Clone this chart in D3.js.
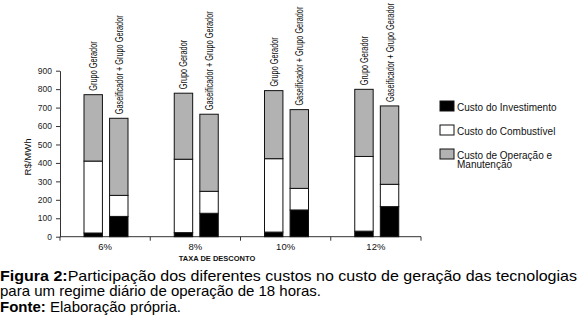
<!DOCTYPE html>
<html><head><meta charset="utf-8">
<script src="https://cdn.jsdelivr.net/npm/d3@7"></script>
<style>
body{margin:0;background:#fff;}
svg{display:block;}
text{font-family:"Liberation Sans",Arial,sans-serif;}
</style></head>
<body>
<svg id="c" width="579" height="322"></svg>
<script>
const categories = ["6%", "8%", "10%", "12%"];
const technologies = ["Grupo Gerador", "Gaseificador + Grupo Gerador"];
const components = ["Custo do Investimento", "Custo do Combustível", "Custo de Operação e Manutenção"];
// values per technology per category: [investimento, combustível, O&M]
const grupoGerador = [[20, 390, 360], [22, 398, 358], [25, 398, 369], [30, 405, 364]];
const gaseificadorGrupo = [[110, 114, 418], [127, 119, 418], [145, 117, 427], [163, 121, 425]];
const yTicks = [0, 100, 200, 300, 400, 500, 600, 700, 800, 900];
const compColors = ["#000000", "#ffffff", "#b2b2b2"];

const svg = d3.select("#c");
const x0 = d3.scaleBand().domain(categories).range([60, 421]).padding(0);
const x1 = d3.scaleBand().domain(technologies).range([24, 68]).paddingInner(0.28);
const y = d3.scaleLinear().domain([0, 900]).range([236.7, 70.7]);

const rows = [];
categories.forEach((c, i) => {
  [grupoGerador, gaseificadorGrupo].forEach((arr, t) => {
    let acc = 0;
    const segs = arr[i].map((v, k) => { const s = {k, y0: acc, y1: acc + v}; acc += v; return s; });
    rows.push({cat: c, tech: technologies[t], segs, total: acc});
  });
});

// y axis
const yAxis = d3.axisLeft(y).tickValues(yTicks).tickSize(4).tickSizeOuter(0).tickPadding(4);
const gy = svg.append("g").attr("transform", "translate(60,0)").call(yAxis);
gy.select(".domain").attr("stroke", "#333");
gy.selectAll(".tick line").attr("stroke", "#333");
gy.selectAll(".tick text").attr("font-size", 8.5).attr("fill", "#222").attr("font-family", "'Liberation Sans',Arial,sans-serif");

// x axis
svg.append("line").attr("x1", x0.range()[0]).attr("x2", x0.range()[1]).attr("y1", y(0)).attr("y2", y(0)).attr("stroke", "#333");
const bounds = categories.map(c => x0(c)).concat([x0.range()[1]]);
svg.selectAll("line.xt").data(bounds).enter().append("line").attr("class", "xt")
  .attr("x1", d => d).attr("x2", d => d).attr("y1", y(0)).attr("y2", y(0) + 4).attr("stroke", "#333");
svg.selectAll("text.cat").data(categories).enter().append("text").attr("class", "cat")
  .attr("x", d => x0(d) + x0.bandwidth() / 2).attr("y", 250).attr("text-anchor", "middle")
  .attr("font-size", 9.5).attr("fill", "#111").text(d => d);

// bars
const bg = svg.selectAll("g.bar").data(rows).enter().append("g").attr("class", "bar")
  .attr("transform", d => `translate(${x0(d.cat) + x1(d.tech)},0)`);
bg.selectAll("rect").data(d => d.segs).enter().append("rect")
  .attr("x", 0).attr("width", x1.bandwidth())
  .attr("y", d => y(d.y1)).attr("height", d => y(d.y0) - y(d.y1))
  .attr("fill", d => compColors[d.k]).attr("stroke", "#111").attr("stroke-width", 1);

// rotated labels (condensed horizontally along text direction)
bg.append("text")
  .attr("transform", d => `translate(${x1.bandwidth() / 2 + 4},${y(d.total) - 4}) rotate(-90) scale(0.735,1)`)
  .attr("font-size", 10).attr("fill", "#111")
  .text(d => d.tech);

// y label
svg.append("text").attr("transform", "translate(31,157) rotate(-90)").attr("text-anchor", "middle")
  .attr("font-size", 9.5).attr("fill", "#111").text("R$/MWh");
// x title
svg.append("text").attr("x", 217).attr("y", 260.5).attr("text-anchor", "middle")
  .attr("font-size", 7.5).attr("font-weight", "bold").attr("fill", "#111").text("TAXA DE DESCONTO");

// legend
const legendLabels = [["Custo do Investimento"], ["Custo do Combustível"], ["Custo de Operação e", "Manutenção"]];
const lg = svg.selectAll("g.lg").data(components).enter().append("g").attr("class", "lg")
  .attr("transform", (d, i) => `translate(440,${101 + i * 24})`);
lg.append("rect").attr("width", 14).attr("height", 10).attr("fill", (d, i) => compColors[i]).attr("stroke", "#111");
lg.each(function (d, i) {
  const t = d3.select(this).append("text").attr("x", 17).attr("y", 9.5).attr("font-size", 10).attr("fill", "#111");
  legendLabels[i].forEach((s, j) => t.append("tspan").attr("x", 17).attr("dy", j ? 9.5 : 0).text(s));
});

// caption
const cap = svg.append("g").attr("fill", "#000").attr("font-size", 15);
const l1 = cap.append("text").attr("x", 0).attr("y", 280.5).attr("textLength", 577).attr("lengthAdjust", "spacingAndGlyphs");
l1.append("tspan").attr("font-weight", "bold").text("Figura 2:");
l1.append("tspan").text("Participação dos diferentes custos no custo de geração das tecnologias");
cap.append("text").attr("x", 0).attr("y", 296).text("para um regime diário de operação de 18 horas.");
const l3 = cap.append("text").attr("x", 0).attr("y", 311.5);
l3.append("tspan").attr("font-weight", "bold").text("Fonte:");
l3.append("tspan").text(" Elaboração própria.");
</script>
</body></html>
